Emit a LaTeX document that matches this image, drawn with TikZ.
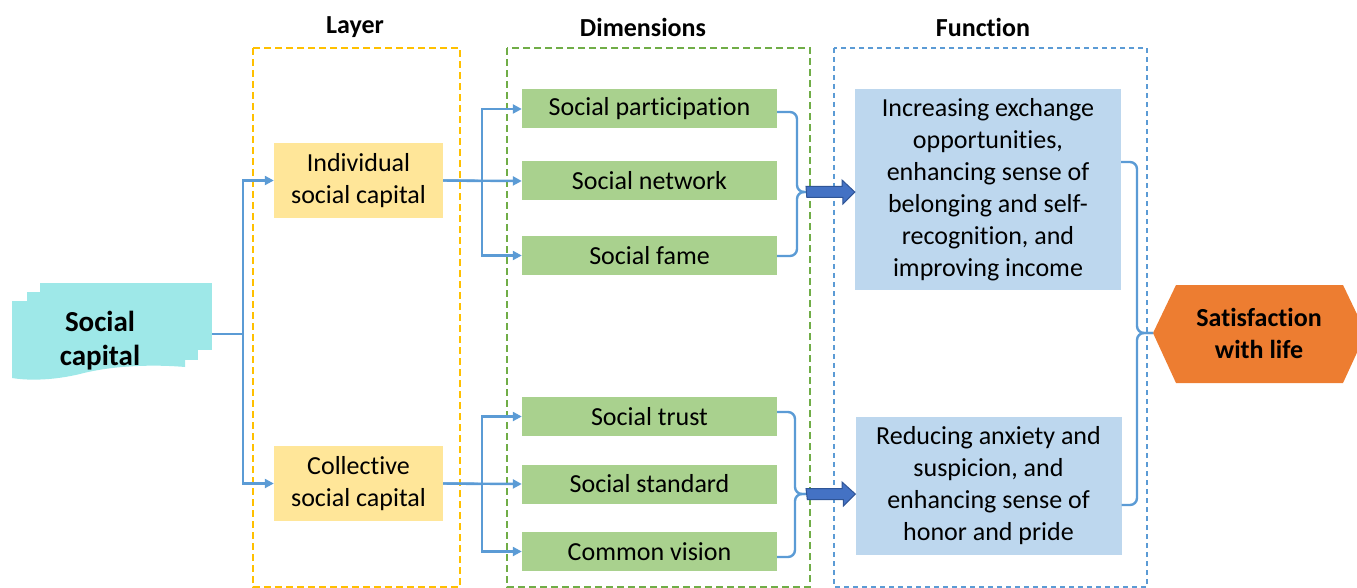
\documentclass[tikz,border=0pt]{standalone}
\usepackage{fontspec}
\setmainfont{Carlito}[Ligatures=NoCommon]
\usetikzlibrary{arrows.meta}
\definecolor{connblue}{HTML}{5B9BD5}
\definecolor{layerfill}{HTML}{FFE699}
\definecolor{dimfill}{HTML}{A9D18E}
\definecolor{funcfill}{HTML}{BDD7EE}
\definecolor{capfill}{HTML}{9EE8E8}
\definecolor{satfill}{HTML}{ED7D31}
\definecolor{fatfill}{HTML}{4472C4}
\definecolor{fatedge}{HTML}{2F5597}
\definecolor{frameyellow}{HTML}{FFC000}
\definecolor{framegreen}{HTML}{70AD47}
\definecolor{frameblue}{HTML}{5B9BD5}
\tikzset{
  txt/.style={font=\fontsize{26}{32}\selectfont, text=black, align=center, inner sep=0pt},
  head/.style={font=\fontsize{26}{30}\selectfont\bfseries, inner sep=0pt},
  layerbox/.style={txt, fill=layerfill, minimum width=169pt, minimum height=75pt},
  dimbox/.style={txt, fill=dimfill, minimum width=255pt, minimum height=39pt},
  funcbox/.style={txt, fill=funcfill, minimum width=266pt},
  conn/.style={draw=connblue, line width=2.4pt},
  arr/.style={conn, -{Triangle[length=9pt,width=9pt]}},
  frame/.style={line width=2pt, dash pattern=on 7pt off 4pt},
  fatarrow/.style={fill=fatfill, draw=fatedge, line width=1pt},
}
\begin{document}
\begin{tikzpicture}[x=1pt, y=-1pt]
\useasboundingbox (0,0) rectangle (1357,588);

% column frames
\draw[frame, frameyellow] (253,48) rectangle (460,587);
\draw[frame, framegreen]  (507,48) rectangle (810,587);
\draw[frame, frameblue, dash pattern=on 5pt off 4pt]  (834,48) rectangle (1147,587);

% column headings
\node[head] (hlayer) at (355,27) {Layer};
\node[head] (hdim)   at (643,27) {Dimensions};
\node[head] (hfunc)  at (983,27) {Function};

% stacked-document source shape
\fill[capfill] (40,283) rectangle (212,350);
\fill[capfill] (27,292) rectangle (198,360);
\fill[capfill] (12,301) -- (185,301) -- (185,367)
  .. controls (150,364) and (110,366) .. (80,374)
  .. controls (55,380) and (30,381) .. (12,378) -- cycle;
\node[txt, font=\fontsize{29}{34}\selectfont\bfseries] (cap) at (100,341) {Social\\capital};
\coordinate (capout) at (212,334);

% layers
\node[layerbox] (ind) at (358.5,180.5) {Individual\\social capital};
\node[layerbox] (col) at (358.5,483.5) {Collective\\social capital};

% dimensions
\node[dimbox] (sp) at (649.5,109) {Social participation};
\node[dimbox] (sn) at (649.5,181) {Social network};
\node[dimbox] (sf) at (649.5,255.5) {Social fame};
\node[dimbox] (st) at (649.5,416.5) {Social trust};
\node[dimbox] (ss) at (649.5,484) {Social standard};
\node[dimbox] (cv) at (649.5,551.5) {Common vision};

% functions
\node[funcbox, minimum height=201pt] (fa) at (988,189.5)
  {Increasing exchange\\opportunities,\\enhancing sense of\\belonging and self-\\recognition, and\\improving income};
\node[funcbox, minimum height=138pt] (fb) at (988.5,486)
  {Reducing anxiety and\\suspicion, and\\enhancing sense of\\honor and pride};

% outcome
\fill[satfill] (1153,333) -- (1176,285) -- (1343,285) -- (1366,333) -- (1343,383) -- (1176,383) -- cycle;
\node[txt, font=\fontsize{26}{32}\selectfont\bfseries] (sat) at (1259,333) {Satisfaction\\with life};
\coordinate (satw) at (1153,333);

% source to layers
\draw[conn] (capout) -- (243,334);
\draw[arr] (243,334) |- (ind.west);
\draw[arr] (243,334) |- (col.west);

% layers to dimensions
\draw[conn] (ind.east) -- (482,181);
\draw[arr] (482,181) |- (sp.west);
\draw[arr] (ind.east) -- (sn.west);
\draw[arr] (482,181) |- (sf.west);
\draw[conn] (col.east) -- (482,484);
\draw[arr] (482,484) |- (st.west);
\draw[arr] (col.east) -- (ss.west);
\draw[arr] (482,484) |- (cv.west);

% braces gathering the dimensions
\coordinate (bta) at (806,192);
\draw[conn, rounded corners=7pt] (sp.east |- 0,112) -- (797,112) -- (797,192) -- (bta);
\draw[conn, rounded corners=7pt] (sf.east |- 0,256) -- (797,256) -- (797,192) -- (bta);
\coordinate (btb) at (806,494);
\draw[conn, rounded corners=7pt] (st.east |- 0,412) -- (795,412) -- (795,494) -- (btb);
\draw[conn, rounded corners=7pt] (cv.east |- 0,557) -- (795,557) -- (795,494) -- (btb);

% block arrows into the functions
\draw[fatarrow] (bta) ++(0,-5.5) -- ++(36,0) -- ++(0,-6.5) -- (fa.west |- bta) -- ++(-12,12) -- ++(0,-6.5) -- ++(-36,0) -- cycle;
\draw[fatarrow] (btb) ++(0,-5.5) -- ++(36,0) -- ++(0,-6.5) -- (fb.west |- btb) -- ++(-12,12) -- ++(0,-6.5) -- ++(-36,0) -- cycle;

% brace gathering the functions
\draw[conn, rounded corners=7pt] (fa.east |- 0,162) -- (1137,162) -- (1137,333) -- (satw);
\draw[conn, rounded corners=7pt] (fb.east |- 0,505) -- (1137,505) -- (1137,333) -- (satw);
\end{tikzpicture}
\end{document}
